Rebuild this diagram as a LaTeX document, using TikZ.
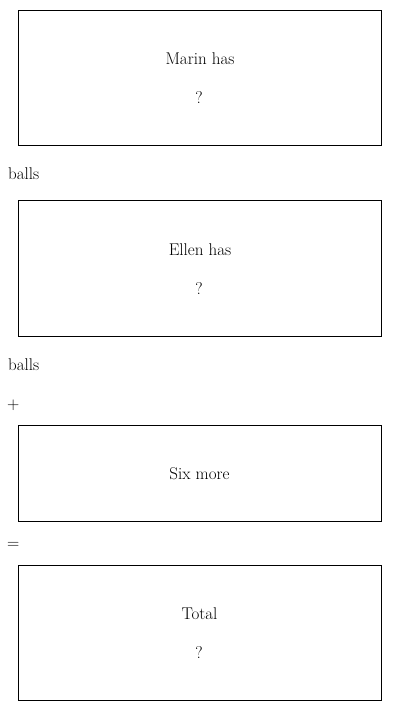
\documentclass[tikz,border=0pt]{standalone}
\usepackage{tikz}
\usetikzlibrary{positioning}
\tikzset{
  box/.style={draw=black, line width=1pt, minimum width=363pt, minimum height=135pt, inner sep=0pt},
  boxs/.style={box, minimum height=96pt},
  lab/.style={text=black, font=\fontsize{17}{20}\selectfont, inner sep=0pt},
  side/.style={lab, anchor=west},
}

\begin{document}
\begin{tikzpicture}[x=1pt, y=-1pt]
  \useasboundingbox (0,0) rectangle (400,711);
  % first amount
  \node[box] (marin) at (199.5,78) {};
  \node[lab] (marinT) at (200,59) {Marin has};
  \node[lab] (marinQ) at (199,98) {?};
  \node[side] (balls1) at (8,174) {balls};
  % second amount
  \node[box] (ellen) at (199.5,268.5) {};
  \node[lab] (ellenT) at (200,250) {Ellen has};
  \node[lab] (ellenQ) at (199,289) {?};
  \node[side] (balls2) at (8,365) {balls};
  \node[side] (plus) at (7,405) {+};
  % difference
  \node[boxs] (six) at (199.5,473) {};
  \node[lab] (sixT) at (199.5,474) {Six more};
  \node[side] (equal) at (7,545) {=};
  % total
  \node[box] (total) at (199.5,632.5) {};
  \node[lab] (totalT) at (199.5,614) {Total};
  \node[lab] (totalQ) at (199,653) {?};
\end{tikzpicture}
\end{document}
